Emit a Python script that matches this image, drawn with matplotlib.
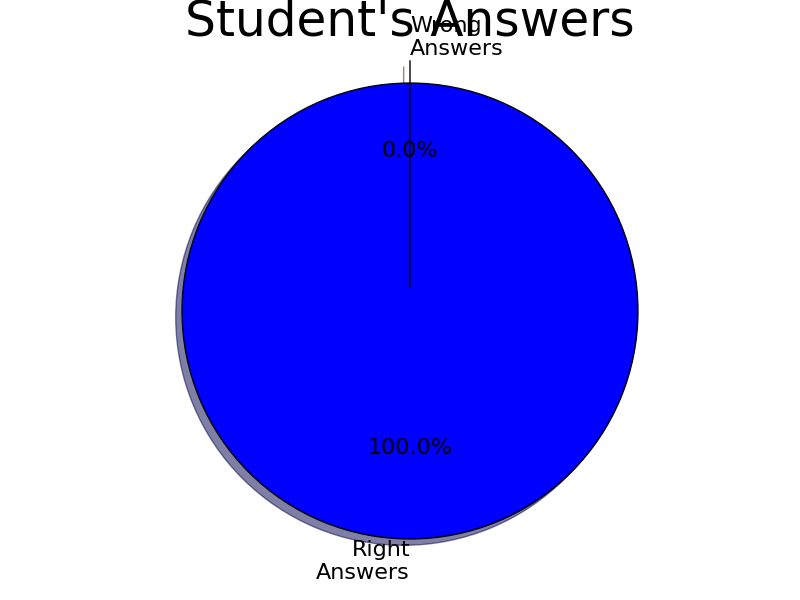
import matplotlib
matplotlib.use('Agg')
import matplotlib.pyplot as plt

labels = ['Right\nAnswers', 'Wrong\nAnswers']
sizes = [100, 0]
colors = ['blue', 'red']
explode = (0, 0.1)

fig = plt.figure(figsize=(8, 6), dpi=100)
ax = fig.add_axes([0.125, 0.0383, 0.775, 0.8867])
wedges, texts, autotexts = ax.pie(sizes, explode=explode, labels=labels, colors=colors,
                                  autopct='%1.1f%%', shadow=True, startangle=90,
                                  wedgeprops={'edgecolor': 'black'},
                                  textprops={'fontsize': 16})
# label sides as in the original
texts[0].set_ha('right')
texts[1].set_ha('left')

ax.set_aspect('auto')
ax.set_xlim(-1.36, 1.36)
ax.set_ylim(-1.167, 1.167)
ax.set_title("Student's Answers", fontsize=35)
plt.savefig('out.png')
